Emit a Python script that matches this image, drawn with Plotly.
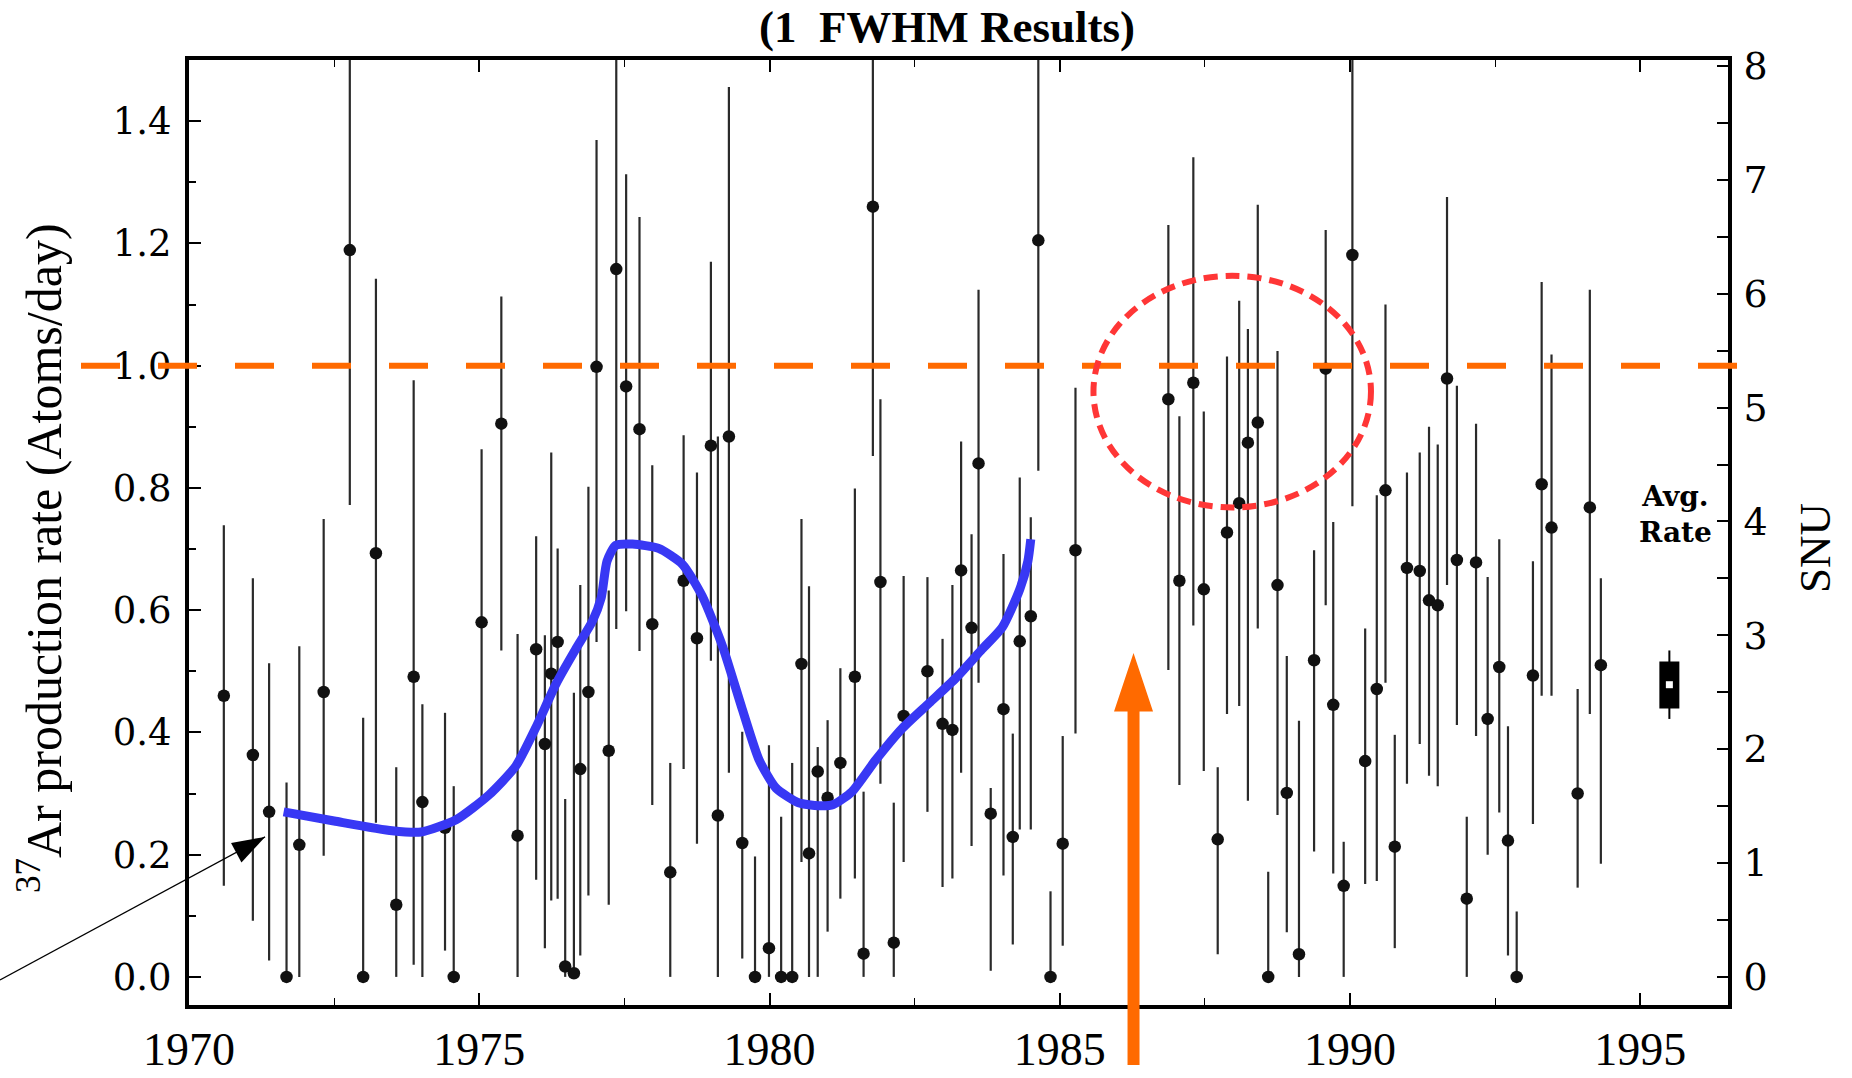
import plotly.graph_objects as go

# ---------------- data ----------------
years = [1970.60, 1971.10, 1971.38, 1971.68, 1971.90, 1972.32, 1972.77, 1973.00, 1973.22, 1973.57,
         1973.87, 1974.02, 1974.41, 1974.56, 1975.04, 1975.38, 1975.66, 1975.98, 1976.13, 1976.24,
         1976.35, 1976.48, 1976.63, 1976.74, 1976.88, 1977.02, 1977.23, 1977.36, 1977.53, 1977.76,
         1977.98, 1978.29, 1978.52, 1978.75, 1978.99, 1979.11, 1979.30, 1979.53, 1979.75, 1979.99,
         1980.20, 1980.39, 1980.55, 1980.68, 1980.83, 1981.00, 1981.22, 1981.47, 1981.62, 1981.78,
         1981.91, 1982.14, 1982.31, 1982.72, 1982.98, 1983.15, 1983.30, 1983.48, 1983.60, 1983.81,
         1984.03, 1984.19, 1984.31, 1984.50, 1984.63, 1984.84, 1985.05, 1985.27, 1986.87, 1987.06,
         1987.30, 1987.48, 1987.72, 1987.88, 1988.09, 1988.24, 1988.41, 1988.59, 1988.75, 1988.91,
         1989.12, 1989.38, 1989.58, 1989.71, 1989.89, 1990.04, 1990.26, 1990.46, 1990.61, 1990.77,
         1990.98, 1991.20, 1991.36, 1991.51, 1991.67, 1991.84, 1992.01, 1992.17, 1992.37, 1992.57,
         1992.72, 1992.87, 1993.15, 1993.30, 1993.47, 1993.92, 1994.13, 1994.32]
rate = [0.460, 0.363, 0.270, 0.000, 0.216, 0.466, 1.189, 0.000, 0.693, 0.118,
        0.491, 0.286, 0.244, 0.000, 0.580, 0.905, 0.231, 0.536, 0.381, 0.496,
        0.548, 0.017, 0.006, 0.340, 0.466, 0.998, 0.370, 1.158, 0.966, 0.896,
        0.577, 0.171, 0.648, 0.554, 0.869, 0.264, 0.884, 0.219, 0.000, 0.047,
        0.000, 0.000, 0.512, 0.202, 0.336, 0.293, 0.350, 0.491, 0.038, 1.260,
        0.646, 0.056, 0.427, 0.500, 0.414, 0.404, 0.665, 0.571, 0.840, 0.267,
        0.438, 0.229, 0.549, 0.590, 1.205, 0.000, 0.218, 0.698, 0.945, 0.648,
        0.972, 0.634, 0.225, 0.727, 0.775, 0.874, 0.907, 0.000, 0.641, 0.301,
        0.037, 0.518, 0.995, 0.445, 0.149, 1.181, 0.353, 0.471, 0.796, 0.213,
        0.669, 0.664, 0.616, 0.608, 0.979, 0.682, 0.128, 0.678, 0.422, 0.507,
        0.223, 0.000, 0.493, 0.806, 0.735, 0.300, 0.768, 0.510]
rate_upper = [0.739, 0.652, 0.513, 0.318, 0.541, 0.749, 1.600, 0.424, 1.142, 0.343,
              0.976, 0.446, 0.432, 0.312, 0.863, 1.113, 0.561, 0.721, 0.559, 0.858,
              0.701, 0.291, 0.465, 0.641, 0.802, 1.369, 0.632, 1.600, 1.313, 1.243,
              0.837, 0.350, 0.886, 0.825, 1.170, 0.884, 1.456, 0.401, 0.197, 0.379,
              0.262, 0.350, 0.749, 0.639, 0.376, 0.420, 0.505, 0.799, 0.303, 1.600,
              0.945, 0.285, 0.656, 0.654, 0.553, 0.641, 0.876, 0.724, 1.124, 0.309,
              0.692, 0.398, 0.817, 0.752, 1.600, 0.140, 0.394, 0.964, 1.230, 0.917,
              1.341, 0.925, 0.343, 1.015, 1.106, 1.060, 1.263, 0.172, 1.024, 0.525,
              0.419, 0.698, 1.222, 0.744, 0.221, 1.600, 0.570, 0.788, 1.100, 0.396,
              0.825, 0.858, 0.900, 0.871, 1.276, 0.967, 0.262, 0.905, 0.654, 0.716,
              0.410, 0.107, 0.680, 1.137, 1.018, 0.471, 1.124, 0.652]
rate_lower = [0.149, 0.092, 0.027, 0.000, 0.000, 0.198, 0.772, 0.000, 0.252, 0.000,
              0.020, 0.000, 0.043, 0.000, 0.293, 0.534, 0.000, 0.159, 0.047, 0.125,
              0.128, 0.000, 0.000, 0.035, 0.133, 0.548, 0.118, 0.569, 0.598, 0.533,
              0.281, 0.000, 0.340, 0.218, 0.517, 0.000, 0.334, 0.030, 0.000, 0.000,
              0.000, 0.000, 0.188, 0.000, 0.000, 0.074, 0.128, 0.161, 0.000, 0.852,
              0.316, 0.000, 0.188, 0.270, 0.147, 0.161, 0.334, 0.214, 0.481, 0.010,
              0.166, 0.053, 0.241, 0.241, 0.828, 0.000, 0.051, 0.398, 0.502, 0.314,
              0.575, 0.337, 0.037, 0.430, 0.443, 0.288, 0.570, 0.000, 0.265, 0.073,
              0.000, 0.205, 0.608, 0.169, 0.000, 0.770, 0.152, 0.157, 0.481, 0.047,
              0.316, 0.381, 0.329, 0.312, 0.641, 0.412, 0.000, 0.394, 0.200, 0.269,
              0.035, 0.000, 0.250, 0.460, 0.460, 0.146, 0.430, 0.185]

trend_years = [1971.63, 1972.5, 1973.5, 1974.0, 1974.6, 1975.17, 1975.63, 1975.97, 1976.32,
               1976.66, 1976.95, 1977.1, 1977.2, 1977.35, 1977.64, 1978.09, 1978.5, 1978.84,
               1979.19, 1979.53, 1979.82, 1980.11, 1980.5, 1980.85, 1981.1, 1981.42, 1981.83,
               1982.29, 1982.75, 1983.21, 1983.66, 1984.01, 1984.31, 1984.45, 1984.5]
trend_rate = [0.270, 0.255, 0.239, 0.237, 0.257, 0.298, 0.345, 0.407, 0.479,
              0.536, 0.582, 0.620, 0.680, 0.706, 0.708, 0.701, 0.675, 0.623,
              0.541, 0.438, 0.355, 0.309, 0.285, 0.280, 0.282, 0.303, 0.355,
              0.407, 0.448, 0.489, 0.536, 0.572, 0.634, 0.680, 0.716]

avg_year = [1995.5]
avg_rate = [0.478]
avg_box_low, avg_box_high = [0.439], [0.516]
avg_whisker_low, avg_whisker_high = [0.422], [0.534]

reference_rate = 1.0
snu_per_rate = 5.369

highlight_years = [1985.58, 1990.36]
highlight_rate = [0.768, 1.147]

arrow_year = 1986.27
arrow_tip_rate = 0.53
pointer_year = 1971.31
pointer_rate = 0.229
pointer_tail_rate = -0.005

x_ticks = [1970, 1975, 1980, 1985, 1990, 1995]
x_range = [1970, 1996.51]
y_range = [-0.046, 1.5]

# ---------------- geometry / style ----------------
W, H = 1852, 1078
M = dict(l=189, r=124, t=60, b=73)
plot_w = W - M['l'] - M['r']
plot_h = H - M['t'] - M['b']
ppx = plot_w / (x_range[1] - x_range[0])
ppy = plot_h / (y_range[1] - y_range[0])


def xpaper(xv):
    return (xv - x_range[0]) / (x_range[1] - x_range[0])


def ypaper(yv):
    return (yv - y_range[0]) / (y_range[1] - y_range[0])


ORANGE = '#FF6A00'
RED = '#FF3636'
BLUE = '#3838F4'
SERIF = 'Liberation Serif'
WIDE_SERIF = 'DejaVu Serif'

err_plus = [u - r for u, r in zip(rate_upper, rate)]
err_minus = [r - l for r, l in zip(rate, rate_lower)]

fig = go.Figure()

fig.add_trace(go.Scatter(
    x=years, y=rate, mode='markers',
    marker=dict(size=12.5, color='#111111'),
    error_y=dict(type='data', symmetric=False, array=err_plus, arrayminus=err_minus,
                 thickness=2.2, width=0, color='#2a2a2a'),
    hoverinfo='skip', showlegend=False))

fig.add_trace(go.Scatter(
    x=trend_years, y=trend_rate, mode='lines',
    line=dict(color=BLUE, width=9, shape='spline', smoothing=0.6),
    hoverinfo='skip', showlegend=False))

fig.add_trace(go.Scatter(
    x=avg_year, y=avg_rate, mode='markers', marker=dict(size=2, opacity=0),
    error_y=dict(type='data', symmetric=False,
                 array=[h - a for h, a in zip(avg_whisker_high, avg_rate)],
                 arrayminus=[a - l for a, l in zip(avg_rate, avg_whisker_low)],
                 thickness=2, width=0, color='black'),
    hoverinfo='skip', showlegend=False))

fig.add_trace(go.Scatter(
    x=avg_year, y=avg_rate, mode='markers',
    marker=dict(size=7, color='white', symbol='square', line=dict(width=0)),
    error_y=dict(type='data', symmetric=False,
                 array=[h - a for h, a in zip(avg_box_high, avg_rate)],
                 arrayminus=[a - l for a, l in zip(avg_rate, avg_box_low)],
                 thickness=20, width=0, color='black'),
    hoverinfo='skip', showlegend=False))

# invisible trace on the SNU axis so it is drawn
fig.add_trace(go.Scatter(
    x=avg_year, y=[a * snu_per_rate for a in avg_rate], yaxis='y2', mode='markers',
    marker=dict(size=1, opacity=0), hoverinfo='skip', showlegend=False))

shapes = []
# dashed reference level (extends beyond the frame)
shapes.append(dict(type='line', xref='paper', yref='y',
                   x0=(81 - M['l']) / plot_w, x1=(1773 - M['l']) / plot_w,
                   y0=reference_rate, y1=reference_rate,
                   line=dict(color=ORANGE, width=6, dash='39px,38px')))
# red dashed ellipse
shapes.append(dict(type='circle', xref='x', yref='y',
                   x0=highlight_years[0], x1=highlight_years[1],
                   y0=highlight_rate[0], y1=highlight_rate[1],
                   line=dict(color=RED, width=6, dash='14px,8px')))
# orange arrow shaft (starts below the frame)
shaft_top = arrow_tip_rate - 52 / ppy
shapes.append(dict(type='line', xref='x', yref='paper',
                   x0=arrow_year, x1=arrow_year,
                   y0=(H - M['b'] - 1065) / plot_h, y1=ypaper(shaft_top),
                   line=dict(color=ORANGE, width=12)))
# orange arrow head
hx = 19.5 / ppx
hy = 58.7 / ppy
shapes.append(dict(type='path', xref='x', yref='y',
                   path=f"M {arrow_year},{arrow_tip_rate} L {arrow_year + hx},{arrow_tip_rate - hy} "
                        f"L {arrow_year - hx},{arrow_tip_rate - hy} Z",
                   fillcolor=ORANGE, line=dict(width=0)))
# black pointer line (from the left page edge)
shapes.append(dict(type='line', xref='paper', yref='y',
                   x0=-M['l'] / plot_w, x1=xpaper(pointer_year),
                   y0=pointer_tail_rate, y1=pointer_rate,
                   line=dict(color='black', width=1.2)))
# black pointer head
shapes.append(dict(type='path', xref='x', yref='y',
                   path=f"M {pointer_year},{pointer_rate} "
                        f"L {pointer_year - 34 / ppx},{pointer_rate - 6 / ppy} "
                        f"L {pointer_year - 23.6 / ppx},{pointer_rate - 25.6 / ppy} Z",
                   fillcolor='black', line=dict(width=0)))

annotations = []
# Avg. Rate
annotations.append(dict(x=1995.61, y=0.757, xref='x', yref='y', text='Avg.<br>Rate',
                        showarrow=False, xanchor='center', yanchor='middle',
                        font=dict(family=WIDE_SERIF, size=28, color='black', weight='bold')))
# axis titles
annotations.append(dict(x=(40 - M['l']) / plot_w, y=(H - M['b'] - 558) / plot_h,
                        xref='paper', yref='paper', textangle=-90, showarrow=False,
                        xanchor='center', yanchor='middle',
                        text='<sup>37</sup>Ar production rate (Atoms/day)',
                        font=dict(family=SERIF, size=50, color='black')))
annotations.append(dict(x=(1815 - M['l']) / plot_w, y=(H - M['b'] - 548) / plot_h,
                        xref='paper', yref='paper', textangle=-90, showarrow=False,
                        xanchor='center', yanchor='middle',
                        text='SNU', font=dict(family=SERIF, size=45, color='black')))

fig.update_layout(
    template='none',
    width=W, height=H, margin=dict(M, pad=0, autoexpand=False),
    paper_bgcolor='white', plot_bgcolor='white',
    showlegend=False,
    title=dict(text='(1  FWHM Results)', x=947 / W, xanchor='center',
               y=1 - 26 / H, yanchor='middle',
               font=dict(family=SERIF, size=45, color='black', weight='bold')),
    xaxis=dict(range=x_range, tickmode='array', tickvals=x_ticks,
               ticktext=[str(t) for t in x_ticks], automargin=False,
               ticks='inside', ticklen=12, tickwidth=1.5, tickcolor='black',
               minor=dict(dtick=2.5, tick0=1970, ticks='inside', ticklen=7,
                          tickwidth=1.2, tickcolor='black', showgrid=False),
               showline=True, linewidth=4, linecolor='black', mirror='ticks',
               showgrid=False, zeroline=False, ticklabelstandoff=1,
               tickfont=dict(family=SERIF, size=46, color='black')),
    yaxis=dict(range=y_range, tickmode='linear', tick0=0, dtick=0.2, tickformat='.1f',
               automargin=False,
               ticks='inside', ticklen=12, tickwidth=1.5, tickcolor='black',
               minor=dict(dtick=0.1, tick0=0, ticks='inside', ticklen=7,
                          tickwidth=1.5, tickcolor='black', showgrid=False),
               showline=True, linewidth=4, linecolor='black',
               showgrid=False, zeroline=False, ticklabelstandoff=6,
               tickfont=dict(family=WIDE_SERIF, size=37, color='black')),
    yaxis2=dict(range=[y_range[0] * snu_per_rate, y_range[1] * snu_per_rate],
                overlaying='y', side='right', tickmode='linear', tick0=0, dtick=1,
                automargin=False,
                ticks='inside', ticklen=11, tickwidth=1.5, tickcolor='black',
                minor=dict(dtick=0.5, tick0=0, ticks='inside', ticklen=11,
                           tickwidth=1.5, tickcolor='black', showgrid=False),
                showline=True, linewidth=4, linecolor='black',
                showgrid=False, zeroline=False, ticklabelstandoff=4,
                tickfont=dict(family=WIDE_SERIF, size=38, color='black')),
    shapes=shapes, annotations=annotations,
)

fig.write_html("out.html", config={'displayModeBar': False},
               post_script="document.body.style.margin='0';document.body.style.overflow='hidden';")
